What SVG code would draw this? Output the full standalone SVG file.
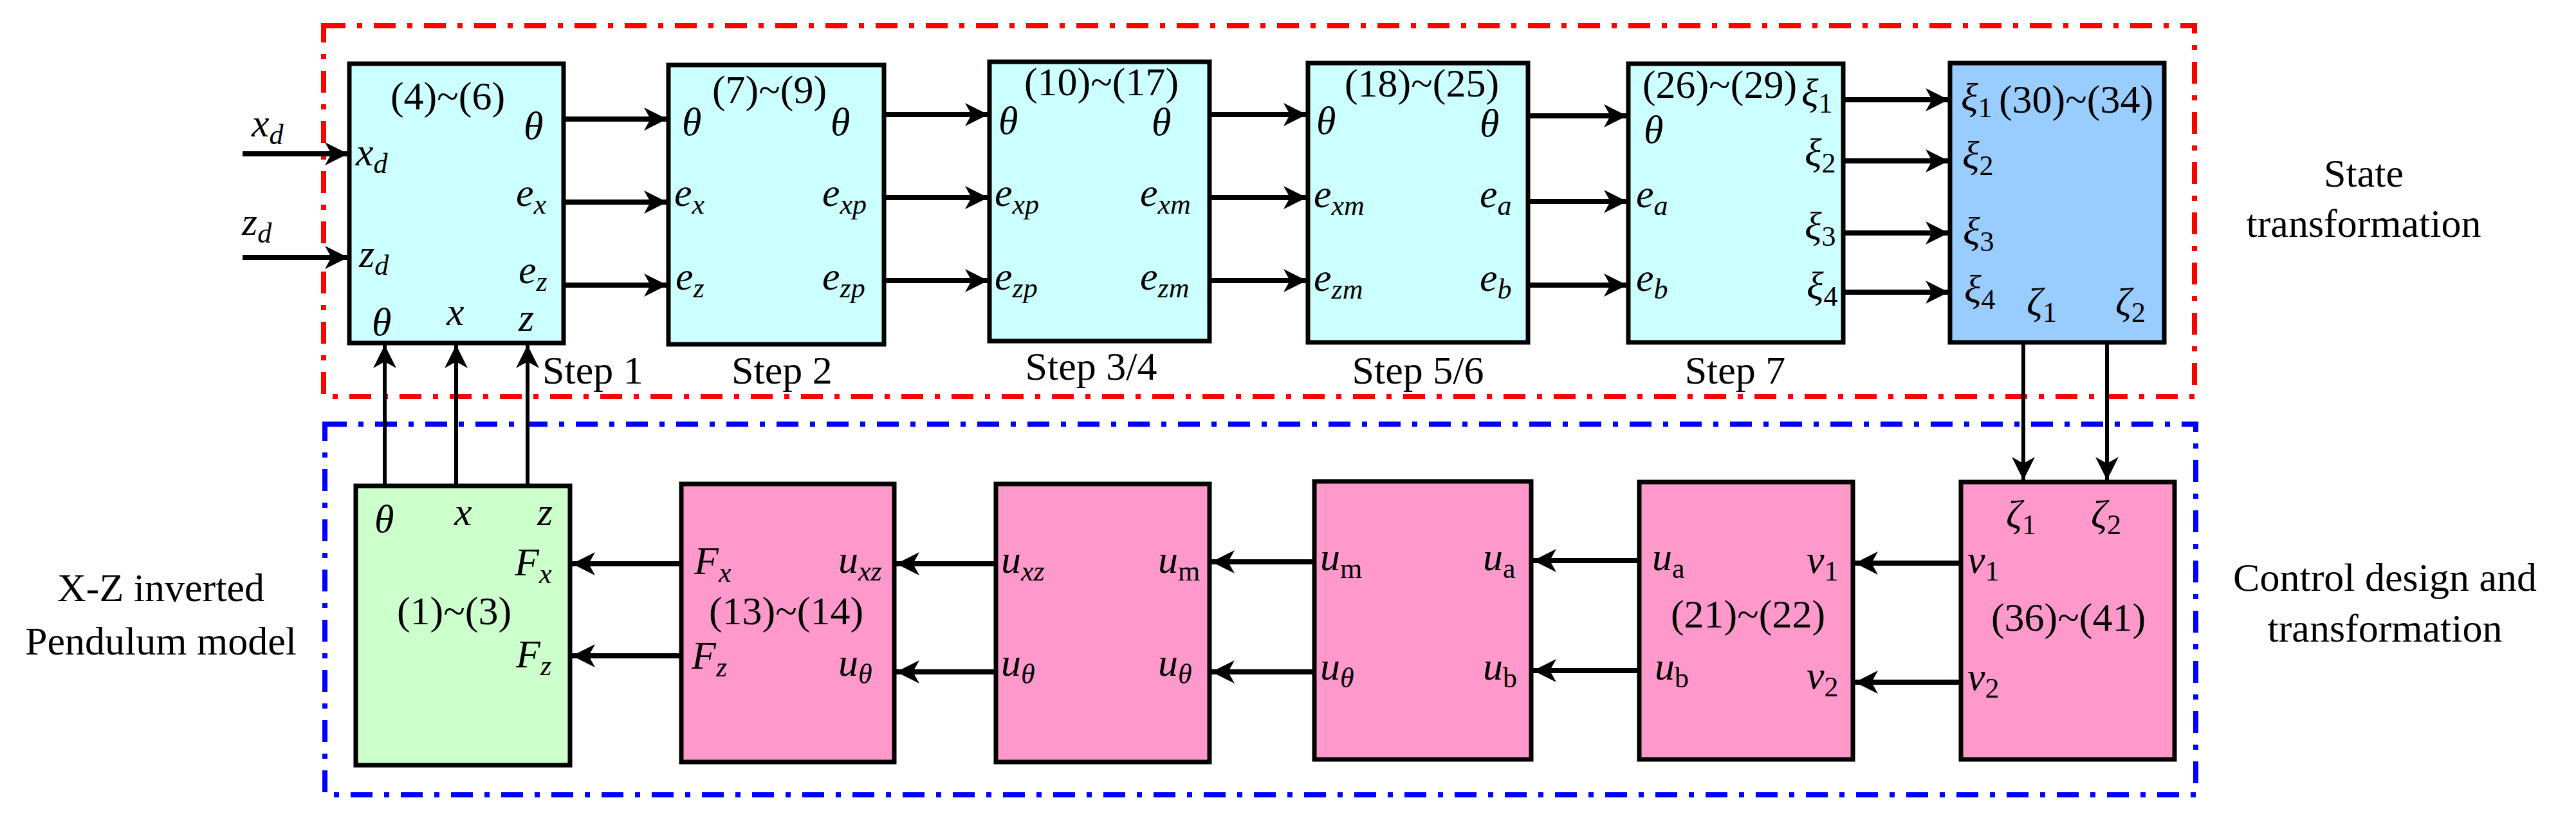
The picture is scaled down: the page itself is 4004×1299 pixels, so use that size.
<svg xmlns="http://www.w3.org/2000/svg" width="4004" height="1299" viewBox="0 0 4004 1299" font-family="'Liberation Serif','DejaVu Serif',serif">
<style>
text{font-family:'Liberation Serif','Times New Roman','DejaVu Serif',serif;font-size:62px;fill:#000}
.i{font-style:italic}
.s{font-size:44px}
.c{text-anchor:middle}
.box{stroke:#000;stroke-width:7}
.cy{fill:#ccffff}.bl{fill:#99ccff}.pk{fill:#ff99cc}.gr{fill:#ccffcc}
.a{stroke:#000;stroke-width:8;fill:none;marker-end:url(#ah)}
.v{stroke:#000;stroke-width:6;fill:none;marker-end:url(#ah)}
</style>
<defs>
<marker id="ah" markerUnits="userSpaceOnUse" markerWidth="44" markerHeight="44" viewBox="0 0 44 44" refX="40" refY="22" orient="auto">
<path d="M4,4 L40,22 L4,40 L14,22 z" fill="#000"/>
</marker>
</defs>
<rect x="503" y="40" width="2908" height="576" fill="none" stroke="#ff0000" stroke-width="8" stroke-dasharray="34 18 8 18"/>
<rect x="505" y="659" width="2908" height="576" fill="none" stroke="#0000ff" stroke-width="8" stroke-dasharray="34 18 8 18"/>

<g id="n1"><rect class="box cy" x="543" y="99" width="333" height="434"/>
<text x="696" y="170" class="c">(4)~(6)</text>
<text x="553" y="257" class="i">x<tspan class="s" dy="12">d</tspan></text>
<text x="558" y="415" class="i">z<tspan class="s" dy="12">d</tspan></text>
<text x="814" y="216" class="i">θ</text>
<text x="802" y="320" class="i">e<tspan class="s" dy="12">x</tspan></text>
<text x="806" y="440" class="i">e<tspan class="s" dy="12">z</tspan></text>
<text x="578" y="521" class="i">θ</text>
<text x="694" y="505" class="i">x</text>
<text x="806" y="514" class="i">z</text></g>

<g id="n2"><rect class="box cy" x="1039" y="101" width="335" height="434"/>
<text x="1196" y="160" class="c">(7)~(9)</text>
<text x="1060" y="210" class="i">θ</text>
<text x="1291" y="210" class="i">θ</text>
<text x="1048" y="320" class="i">e<tspan class="s" dy="12">x</tspan></text>
<text x="1278" y="320" class="i">e<tspan class="s" dy="12">xp</tspan></text>
<text x="1050" y="450" class="i">e<tspan class="s" dy="12">z</tspan></text>
<text x="1278" y="450" class="i">e<tspan class="s" dy="12">zp</tspan></text></g>

<g id="n3"><rect class="box cy" x="1538" y="96" width="342" height="434"/>
<text x="1712" y="148" class="c">(10)~(17)</text>
<text x="1552" y="208" class="i">θ</text>
<text x="1790" y="210" class="i">θ</text>
<text x="1546" y="320" class="i">e<tspan class="s" dy="12">xp</tspan></text>
<text x="1772" y="320" class="i">e<tspan class="s" dy="12">xm</tspan></text>
<text x="1546" y="450" class="i">e<tspan class="s" dy="12">zp</tspan></text>
<text x="1772" y="450" class="i">e<tspan class="s" dy="12">zm</tspan></text></g>

<g id="n4"><rect class="box cy" x="2033" y="98" width="342" height="434"/>
<text x="2210" y="150" class="c">(18)~(25)</text>
<text x="2046" y="208" class="i">θ</text>
<text x="2300" y="212" class="i">θ</text>
<text x="2042" y="322" class="i">e<tspan class="s" dy="12">xm</tspan></text>
<text x="2300" y="322" class="i">e<tspan class="s" dy="12">a</tspan></text>
<text x="2042" y="452" class="i">e<tspan class="s" dy="12">zm</tspan></text>
<text x="2300" y="452" class="i">e<tspan class="s" dy="12">b</tspan></text></g>

<g id="n5"><rect class="box cy" x="2531" y="99" width="334" height="433"/>
<text x="2673" y="152" class="c">(26)~(29)</text>
<text x="2555" y="222" class="i">θ</text>
<text x="2543" y="322" class="i">e<tspan class="s" dy="12">a</tspan></text>
<text x="2543" y="452" class="i">e<tspan class="s" dy="12">b</tspan></text>
<text x="2800" y="165" class="i">ξ<tspan class="s" dy="10" font-style="normal">1</tspan></text>
<text x="2805" y="258" class="i">ξ<tspan class="s" dy="10" font-style="normal">2</tspan></text>
<text x="2805" y="372" class="i">ξ<tspan class="s" dy="10" font-style="normal">3</tspan></text>
<text x="2808" y="465" class="i">ξ<tspan class="s" dy="10" font-style="normal">4</tspan></text></g>

<g id="n6"><rect class="box bl" x="3031" y="98" width="333" height="434"/>
<text x="3048" y="172" class="i">ξ<tspan class="s" dy="10" font-style="normal">1</tspan></text>
<text x="3227" y="175" class="c">(30)~(34)</text>
<text x="3050" y="262" class="i">ξ<tspan class="s" dy="10" font-style="normal">2</tspan></text>
<text x="3051" y="380" class="i">ξ<tspan class="s" dy="10" font-style="normal">3</tspan></text>
<text x="3053" y="470" class="i">ξ<tspan class="s" dy="10" font-style="normal">4</tspan></text>
<text x="3150" y="490" class="i">ζ<tspan class="s" dy="10" font-style="normal">1</tspan></text>
<text x="3288" y="490" class="i">ζ<tspan class="s" dy="10" font-style="normal">2</tspan></text></g>

<g id="b1"><rect class="box gr" x="553" y="755" width="333" height="434"/>
<text x="582" y="827" class="i">θ</text>
<text x="706" y="816" class="i">x</text>
<text x="835" y="816" class="i">z</text>
<text x="800" y="894" class="i">F<tspan class="s" dy="12">x</tspan></text>
<text x="706" y="970" class="c">(1)~(3)</text>
<text x="802" y="1037" class="i">F<tspan class="s" dy="12">z</tspan></text></g>

<g id="b2"><rect class="box pk" x="1059" y="752" width="331" height="432"/>
<text x="1079" y="892" class="i">F<tspan class="s" dy="12">x</tspan></text>
<text x="1303" y="890" class="i">u<tspan class="s" dy="12">xz</tspan></text>
<text x="1222" y="970" class="c">(13)~(14)</text>
<text x="1075" y="1039" class="i">F<tspan class="s" dy="12">z</tspan></text>
<text x="1303" y="1050" class="i">u<tspan class="s" dy="12">θ</tspan></text></g>

<g id="b3"><rect class="box pk" x="1548" y="752" width="332" height="432"/>
<text x="1556" y="890" class="i">u<tspan class="s" dy="12">xz</tspan></text>
<text x="1800" y="890" class="i">u<tspan class="s" dy="12" font-style="normal">m</tspan></text>
<text x="1556" y="1050" class="i">u<tspan class="s" dy="12">θ</tspan></text>
<text x="1800" y="1050" class="i">u<tspan class="s" dy="12">θ</tspan></text></g>

<g id="b4"><rect class="box pk" x="2043" y="748" width="337" height="432"/>
<text x="2052" y="886" class="i">u<tspan class="s" dy="12" font-style="normal">m</tspan></text>
<text x="2305" y="886" class="i">u<tspan class="s" dy="12" font-style="normal">a</tspan></text>
<text x="2052" y="1056" class="i">u<tspan class="s" dy="12">θ</tspan></text>
<text x="2305" y="1056" class="i">u<tspan class="s" dy="12" font-style="normal">b</tspan></text></g>

<g id="b5"><rect class="box pk" x="2548" y="749" width="332" height="431"/>
<text x="2568" y="886" class="i">u<tspan class="s" dy="12" font-style="normal">a</tspan></text>
<text x="2808" y="890" class="i">v<tspan class="s" dy="12" font-style="normal">1</tspan></text>
<text x="2717" y="975" class="c">(21)~(22)</text>
<text x="2572" y="1056" class="i">u<tspan class="s" dy="12" font-style="normal">b</tspan></text>
<text x="2808" y="1070" class="i">v<tspan class="s" dy="12" font-style="normal">2</tspan></text></g>

<g id="b6"><rect class="box pk" x="3048" y="749" width="332" height="431"/>
<text x="3118" y="820" class="i">ζ<tspan class="s" dy="10" font-style="normal">1</tspan></text>
<text x="3250" y="820" class="i">ζ<tspan class="s" dy="10" font-style="normal">2</tspan></text>
<text x="3058" y="890" class="i">v<tspan class="s" dy="12" font-style="normal">1</tspan></text>
<text x="3215" y="980" class="c">(36)~(41)</text>
<text x="3058" y="1072" class="i">v<tspan class="s" dy="12" font-style="normal">2</tspan></text></g>

<g id="connectors">
<path class="a" d="M377 239H541"/>
<path class="a" d="M377 400H541"/>
<path class="a" d="M876 185H1037"/>
<path class="a" d="M876 314H1037"/>
<path class="a" d="M876 443H1037"/>
<path class="a" d="M1374 178H1536"/>
<path class="a" d="M1374 307H1536"/>
<path class="a" d="M1374 436H1536"/>
<path class="a" d="M1880 178H2031"/>
<path class="a" d="M1880 307H2031"/>
<path class="a" d="M1880 436H2031"/>
<path class="a" d="M2375 180H2529"/>
<path class="a" d="M2375 313H2529"/>
<path class="a" d="M2375 443H2529"/>
<path class="a" d="M2865 155H3029"/>
<path class="a" d="M2865 250H3029"/>
<path class="a" d="M2865 362H3029"/>
<path class="a" d="M2865 454H3029"/>
<path class="v" d="M598 755V536"/>
<path class="v" d="M709 755V536"/>
<path class="v" d="M820 755V536"/>
<path class="v" d="M3145 532V746"/>
<path class="v" d="M3275 532V746"/>
<path class="a" d="M1059 876H889"/>
<path class="a" d="M1059 1019H889"/>
<path class="a" d="M1548 876H1393"/>
<path class="a" d="M1548 1044H1393"/>
<path class="a" d="M2043 873H1883"/>
<path class="a" d="M2043 1044H1883"/>
<path class="a" d="M2548 871H2383"/>
<path class="a" d="M2548 1042H2383"/>
<path class="a" d="M3048 875H2883"/>
<path class="a" d="M3048 1060H2883"/>
</g>

<text x="391" y="212" class="i">x<tspan class="s" dy="12">d</tspan></text>
<text x="376" y="365" class="i">z<tspan class="s" dy="12">d</tspan></text>
<text x="843" y="596">Step 1</text>
<text x="1137" y="596">Step 2</text>
<text x="1696" y="590" class="c">Step 3/4</text>
<text x="2204" y="596" class="c">Step 5/6</text>
<text x="2697" y="596" class="c">Step 7</text>
<text x="3674" y="290" class="c">State</text>
<text x="3674" y="368" class="c">transformation</text>
<text x="3707" y="918" class="c">Control design and</text>
<text x="3707" y="997" class="c">transformation</text>
<text x="250" y="934" class="c">X-Z inverted</text>
<text x="250" y="1017" class="c">Pendulum model</text>
</svg>
